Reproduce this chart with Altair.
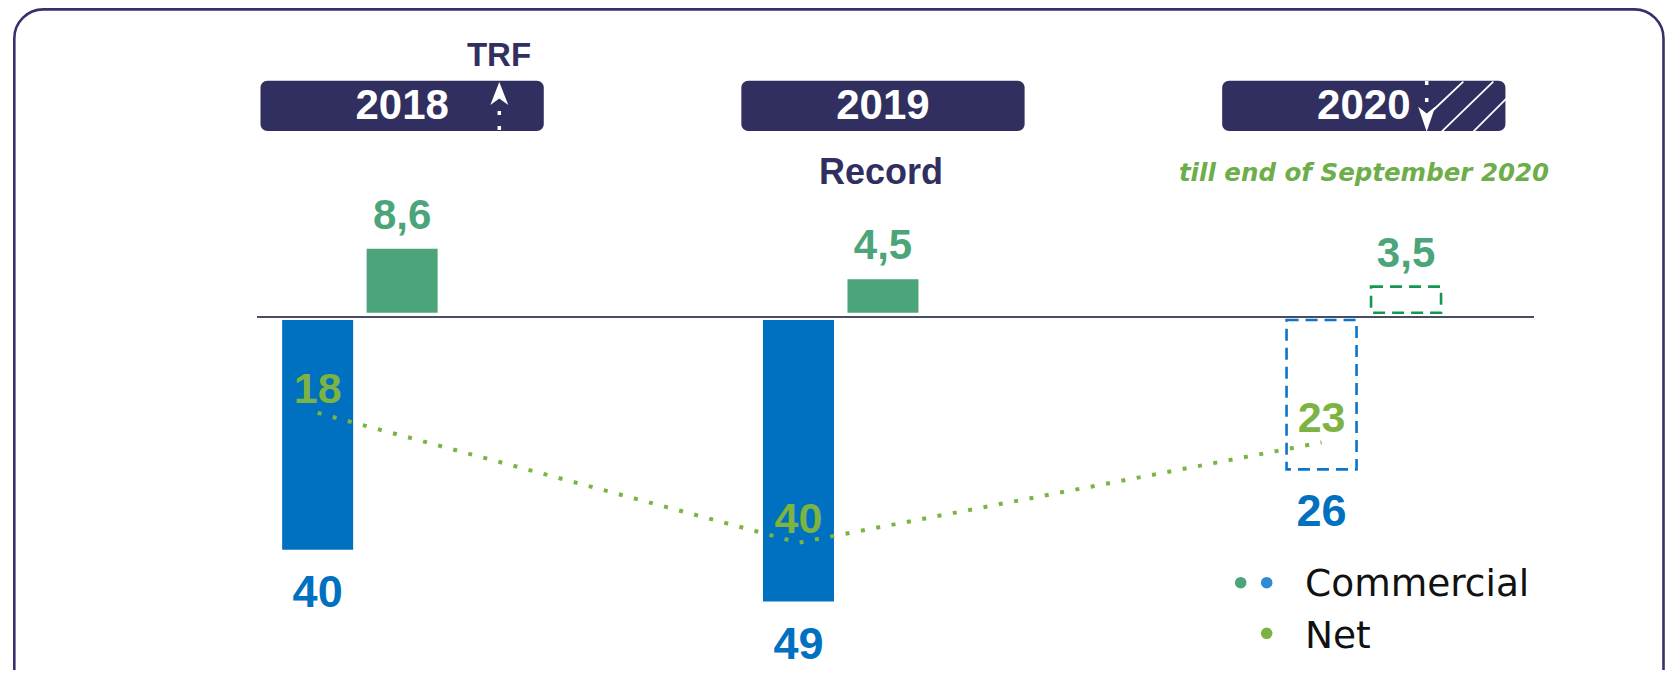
import altair as alt
import pandas as pd

# ---------------- data ----------------
years = [2018, 2019, 2020]
year_labels = ["2018", "2019", "2020"]
commercial_gross = [40, 49, 26]      # blue bars (below the line)
commercial_top = [8.6, 4.5, 3.5]     # green bars (above the line)
net_values = [18, 40, 23]            # dotted green line
partial_year = [False, False, True]  # 2020 only till end of September
legend_labels = ["Commercial", "Net"]


def fmt(v):
    return f"{v:g}".replace(".", ",")


df = pd.DataFrame({
    "year": years,
    "year_label": year_labels,
    "gross": commercial_gross,
    "gross_label": [fmt(v) for v in commercial_gross],
    "top": commercial_top,
    "top_label": [fmt(v) for v in commercial_top],
    "net": net_values,
    "net_label": [fmt(v) for v in net_values],
    "partial": partial_year,
})

# ---------------- layout / style ----------------
W, H = 1657, 662
NAVY = "#312F5F"
BORDER = "#35326B"
BLUE = "#0070C0"
BLUE_DASH = "#0B75CB"
GREEN = "#4CA57A"
GREEN_DASH = "#15974F"
LIME = "#7CB342"
OLIVE = "#6DAE4B"

X_SCALE = alt.Scale(domain=[2017.19070, 2020.61602], nice=False, zero=False)
Y_GROSS = alt.Scale(domain=[-54.299, 60.912], reverse=True, nice=False, zero=False)
Y_TOP = alt.Scale(domain=[-47.992, 40.927], nice=False, zero=False)
Y_NET = alt.Scale(domain=[-50.627, 61.576], reverse=True, nice=False, zero=False)

base = alt.Chart(df).transform_calculate(
    pos_gross="datum.year + (datum.partial ? -0.08786 : -0.17571)",
    pos_top="datum.year + (datum.partial ? 0.08786 : 0)",
    box_l="datum.year - 0.29457",
    box_r="datum.year + 0.29457",
)
one = alt.Chart(pd.DataFrame({"k": [0]}))

# frame around the whole slide
border = one.mark_rect(
    fillOpacity=0, stroke=BORDER, strokeWidth=2.6, cornerRadius=29
).encode(x=alt.value(6.3), x2=alt.value(1655.5), y=alt.value(1.4), y2=alt.value(760))

# zero line
zero_line = one.mark_rule(color="#474D66", strokeWidth=2).encode(
    x=alt.value(249), x2=alt.value(1526), y=alt.value(309)
)

# year header boxes
boxes = base.mark_rect(color=NAVY, cornerRadius=7).encode(
    x=alt.X("box_l:Q", scale=X_SCALE, axis=None),
    x2="box_r:Q",
    y=alt.value(72.7),
    y2=alt.value(123),
)
box_text = base.mark_text(
    font="Liberation Sans", fontWeight="bold", fontSize=42, color="white",
    baseline="middle", align="center"
).encode(
    x=alt.X("year:Q", scale=X_SCALE, axis=None),
    y=alt.value(98),
    text="year_label:N",
)

# decorations inside the headers
hatch = [
    one.mark_rule(color="white", strokeWidth=1.8).encode(
        x=alt.value(x1), y=alt.value(y1), x2=alt.value(x2), y2=alt.value(y2))
    for (x1, y1, x2, y2) in [
        (1425.3, 102.0, 1455.3, 73.7),
        (1433.7, 123.7, 1485.3, 73.7),
        (1465.3, 123.7, 1500.3, 88.7),
    ]
]
up_stem = one.mark_rule(color="white", strokeWidth=3.5, strokeDash=[4, 11]).encode(
    x=alt.value(491.3), y=alt.value(103), y2=alt.value(123)
)
up_head = one.mark_point(
    shape="M0,-1L0.78,1L0,0.45L-0.78,1Z", filled=True, size=529,
    color="white", opacity=1, strokeWidth=0
).encode(x=alt.value(491.3), y=alt.value(85.4))
down_stem = one.mark_rule(color="white", strokeWidth=3.5, strokeDash=[4, 13]).encode(
    x=alt.value(1418.7), y=alt.value(73), y2=alt.value(95)
)
down_head = one.mark_point(
    shape="M0,1L0.68,-1L0,-0.45L-0.68,-1Z", filled=True, size=625,
    color="white", opacity=1, strokeWidth=0
).encode(x=alt.value(1418.7), y=alt.value(111.2))

trf = one.mark_text(
    text="TRF", font="Liberation Sans Narrow, Liberation Sans", fontWeight="bold",
    fontSize=33, color=NAVY, baseline="middle", align="center"
).encode(x=alt.value(491), y=alt.value(48))
record = one.mark_text(
    text="Record", font="Liberation Sans", fontWeight="bold", fontSize=36,
    color=NAVY, baseline="middle", align="center"
).encode(x=alt.value(873), y=alt.value(165))
till = one.mark_text(
    text="till end of September 2020", font="DejaVu Sans", fontWeight="bold",
    fontStyle="italic", fontSize=24.5, color=OLIVE, baseline="middle", align="center"
).encode(x=alt.value(1356), y=alt.value(166))

# green bars (above the line)
top_solid = base.transform_filter("!datum.partial").mark_bar(
    orient="vertical", size=71, color=GREEN
).encode(
    x=alt.X("pos_top:Q", scale=X_SCALE, axis=None),
    y=alt.Y("top:Q", scale=Y_TOP, axis=None, stack=None),
)
top_dash = base.transform_filter("datum.partial").mark_bar(
    orient="vertical", size=70, fillOpacity=0, stroke=GREEN_DASH,
    strokeWidth=2.6, strokeDash=[12, 7]
).encode(
    x=alt.X("pos_top:Q", scale=X_SCALE, axis=None),
    y=alt.Y("top:Q", scale=Y_TOP, axis=None, stack=None),
)
top_text = base.mark_text(
    font="Liberation Sans", fontWeight="bold", fontSize=42, color=GREEN,
    baseline="middle", align="center", dy=-33
).encode(
    x=alt.X("pos_top:Q", scale=X_SCALE, axis=None),
    y=alt.Y("top:Q", scale=Y_TOP, axis=None),
    text="top_label:N",
)

# blue bars (below the line)
gross_solid = base.transform_filter("!datum.partial").mark_bar(
    orient="vertical", size=71, color=BLUE
).encode(
    x=alt.X("pos_gross:Q", scale=X_SCALE, axis=None),
    y=alt.Y("gross:Q", scale=Y_GROSS, axis=None, stack=None),
)
gross_dash = base.transform_filter("datum.partial").mark_bar(
    orient="vertical", size=70, fillOpacity=0, stroke=BLUE_DASH,
    strokeWidth=2.6, strokeDash=[12, 7]
).encode(
    x=alt.X("pos_gross:Q", scale=X_SCALE, axis=None),
    y=alt.Y("gross:Q", scale=Y_GROSS, axis=None, stack=None),
)
gross_text = base.mark_text(
    font="Liberation Sans", fontWeight="bold", fontSize=45, color=BLUE,
    baseline="middle", align="center", dy=43
).encode(
    x=alt.X("pos_gross:Q", scale=X_SCALE, axis=None),
    y=alt.Y("gross:Q", scale=Y_GROSS, axis=None),
    text="gross_label:N",
)

# net dotted line
net_line = base.mark_line(
    color=LIME, strokeWidth=4, strokeDash=[4, 11.6], strokeCap="butt"
).encode(
    x=alt.X("pos_gross:Q", scale=X_SCALE, axis=None),
    y=alt.Y("net:Q", scale=Y_NET, axis=None),
)
net_text = base.mark_text(
    font="Liberation Sans", fontWeight="bold", fontSize=43, color=LIME,
    baseline="middle", align="center", dy=-23
).encode(
    x=alt.X("pos_gross:Q", scale=X_SCALE, axis=None),
    y=alt.Y("net:Q", scale=Y_NET, axis=None),
    text="net_label:N",
)

# hand-made legend
leg_dots = [
    one.mark_circle(size=135, opacity=1, color=c).encode(x=alt.value(x), y=alt.value(y))
    for (x, y, c) in [(1232.7, 574.7, GREEN), (1258.7, 574.7, "#2E8BD6"), (1258.7, 625.3, LIME)]
]
leg_text = [
    one.mark_text(
        text=t, font="DejaVu Sans", fontSize=37.5, color="#111111",
        baseline="middle", align="left"
    ).encode(x=alt.value(1297), y=alt.value(y))
    for t, y in zip(legend_labels, [577, 629])
]

chart = alt.layer(
    border, zero_line, boxes, box_text, *hatch, up_stem, up_head, down_stem, down_head,
    trf, record, till,
    top_solid, top_dash, top_text,
    gross_solid, gross_dash,
    net_line, net_text, gross_text,
    *leg_dots, *leg_text,
).resolve_scale(y="independent").properties(
    width=W, height=H, padding=0,
    autosize=alt.AutoSizeParams(type="none"),
    background="white",
).configure_view(strokeWidth=0)

chart.save("out.html", embed_options={"renderer": "svg", "actions": False})
